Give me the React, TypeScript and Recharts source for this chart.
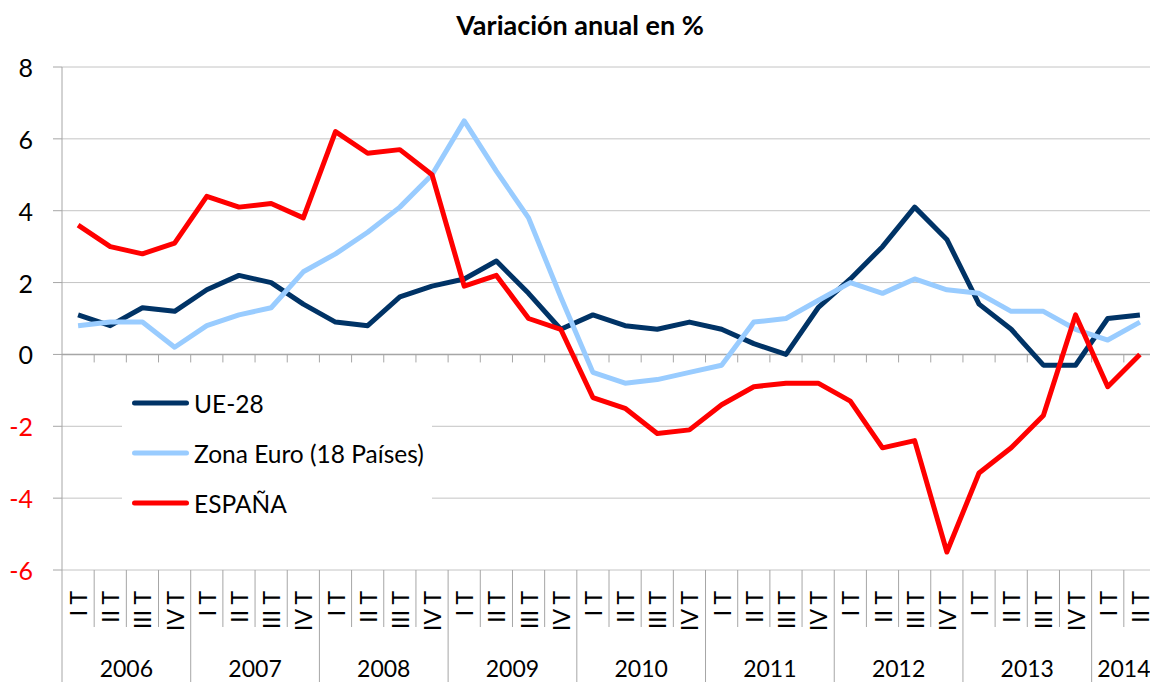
import { LineChart, Line, XAxis, YAxis, CartesianGrid, ReferenceLine, Legend } from "recharts";

const years = ["2006", "2007", "2008", "2009", "2010", "2011", "2012", "2013", "2014"];
const quartersPerYear = [4, 4, 4, 4, 4, 4, 4, 4, 2];
const quarterNames = ["I T", "II T", "III T", "IV T"];

const ue28 = [
	1.1, 0.8, 1.3, 1.2, 1.8, 2.2, 2.0, 1.4, 0.9, 0.8, 1.6, 1.9, 2.1, 2.6, 1.7, 0.7,
	1.1, 0.8, 0.7, 0.9, 0.7, 0.3, 0.0, 1.3, 2.1, 3.0, 4.1, 3.2, 1.4, 0.7, -0.3, -0.3,
	1.0, 1.1,
];
const zonaEuro = [
	0.8, 0.9, 0.9, 0.2, 0.8, 1.1, 1.3, 2.3, 2.8, 3.4, 4.1, 5.0, 6.5, 5.1, 3.8, 1.6,
	-0.5, -0.8, -0.7, -0.5, -0.3, 0.9, 1.0, 1.5, 2.0, 1.7, 2.1, 1.8, 1.7, 1.2, 1.2, 0.7,
	0.4, 0.9,
];
const espana = [
	3.6, 3.0, 2.8, 3.1, 4.4, 4.1, 4.2, 3.8, 6.2, 5.6, 5.7, 5.0, 1.9, 2.2, 1.0, 0.7,
	-1.2, -1.5, -2.2, -2.1, -1.4, -0.9, -0.8, -0.8, -1.3, -2.6, -2.4, -5.5, -3.3, -2.6, -1.7, 1.1,
	-0.9, 0.0,
];
const seriesNames = ["UE-28", "Zona Euro (18 Países)", "ESPAÑA"];
const yTicks = [-6, -4, -2, 0, 2, 4, 6, 8];

const rows = years.flatMap((year, yi) =>
	quarterNames.slice(0, quartersPerYear[yi]).map((q, qi) => ({ year, yi, q, qi })),
).map((r, i) => ({
	...r,
	key: `${r.year}-${r.q}`,
	ue28: ue28[i],
	zonaEuro: zonaEuro[i],
	espana: espana[i],
}));

const FONT = "Lato, 'Open Sans', sans-serif";
const GRID = "#c4c4c4";
const AXIS = "#a6a6a6";

function YTick(props: any) {
	const { x, y, payload } = props;
	return (
		<text
			x={x}
			y={y}
			textAnchor="end"
			dominantBaseline="central"
			fontSize={25}
			fontFamily={FONT}
			fill={payload.value < 0 ? "#ff0000" : "#000000"}
		>
			{payload.value}
		</text>
	);
}

function QuarterTick(props: any) {
	const { x, y, index, width, visibleTicksCount, payload } = props;
	const half = width && visibleTicksCount ? width / visibleTicksCount / 2 : payload?.offset ?? 16;
	const row = rows[index];
	const left = x - half;
	const first = row.qi === 0;
	const last = index === rows.length - 1;
	return (
		<g>
			<line x1={left} x2={left} y1={y} y2={first ? y + 112 : y + 57} stroke={AXIS} />
			{last && <line x1={x + half} x2={x + half} y1={y} y2={y + 112} stroke={AXIS} />}
			<text
				x={x}
				y={y + 21}
				transform={`rotate(-90, ${x}, ${y + 21})`}
				textAnchor="end"
				dominantBaseline="central"
				fontSize={23}
				fontFamily={FONT}
				fill="#000"
			>
				{row.q}
			</text>
			{first && (
				<text
					x={left + quartersPerYear[row.yi] * half}
					y={y + 98}
					textAnchor="middle"
					dominantBaseline="central"
					fontSize={23}
					fontFamily={FONT}
					fill="#000"
				>
					{row.year}
				</text>
			)}
		</g>
	);
}

function ZeroAxis(props: any) {
	const { x1, x2, y1 } = props;
	const n = rows.length;
	return (
		<g>
			<line x1={x1} x2={x2} y1={y1} y2={y1} stroke={AXIS} strokeWidth={1.5} />
			{rows.map((_, k) => {
				const tx = x1 + ((x2 - x1) * (k + 1)) / n;
				return <line key={k} x1={tx} x2={tx} y1={y1} y2={y1 + 8} stroke={AXIS} />;
			})}
		</g>
	);
}

function LegendBox(props: any) {
	const items = [...(props.payload || [])].sort(
		(a: any, b: any) => seriesNames.indexOf(a.value) - seriesNames.indexOf(b.value),
	);
	return (
		<div style={{ fontFamily: FONT, fontSize: 24.5, color: "#000" }}>
			{items.map((entry: any) => (
				<div key={entry.value} style={{ height: 50, display: "flex", alignItems: "center", paddingLeft: 10 }}>
					<svg width={57} height={10} style={{ marginRight: 5 }}>
						<line x1={2.5} x2={54.5} y1={5} y2={5} stroke={entry.color} strokeWidth={5} strokeLinecap="round" />
					</svg>
					<span>{entry.value}</span>
				</div>
			))}
		</div>
	);
}

export default function App() {
	return (
		<div style={{ position: "relative", width: 1150, height: 674 }}>
			<div
				style={{
					position: "absolute",
					left: 0,
					top: 1,
					width: 1144,
					textAlign: "center",
					fontFamily: FONT,
					fontWeight: "bold",
					fontSize: 27,
					lineHeight: "32px",
					zIndex: 2,
				}}
			>
				Variación anual en %
			</div>
			<LineChart width={1150} height={674} data={rows} margin={{ top: 59, right: 2, bottom: 0, left: 0 }}>
				<CartesianGrid vertical={false} stroke={GRID} />
				<YAxis
					width={54}
					domain={[-6, 8]}
					ticks={yTicks}
					interval={0}
					axisLine={{ stroke: AXIS }}
					tickLine={{ stroke: AXIS }}
					tickSize={9}
					tickMargin={20}
					tick={<YTick />}
				/>
				<XAxis
					dataKey="key"
					scale="band"
					height={112}
					interval={0}
					axisLine={false}
					tickLine={false}
					tickSize={0}
					tickMargin={0}
					tick={<QuarterTick />}
				/>
				<ReferenceLine y={0} shape={(p: any) => <ZeroAxis {...p} />} />
				<Legend
					layout="horizontal"
					verticalAlign="middle"
					align="center"
					content={<LegendBox />}
					wrapperStyle={{ left: 114, top: 370, width: 310, height: 150, background: "#fff" }}
				/>
				<Line
					name={seriesNames[0]}
					dataKey="ue28"
					stroke="#003366"
					strokeWidth={5}
					dot={false}
					activeDot={false}
					strokeLinejoin="round"
					isAnimationActive={false}
				/>
				<Line
					name={seriesNames[1]}
					dataKey="zonaEuro"
					stroke="#99ccff"
					strokeWidth={5}
					dot={false}
					activeDot={false}
					strokeLinejoin="round"
					isAnimationActive={false}
				/>
				<Line
					name={seriesNames[2]}
					dataKey="espana"
					stroke="#ff0000"
					strokeWidth={5}
					dot={false}
					activeDot={false}
					strokeLinejoin="round"
					isAnimationActive={false}
				/>
			</LineChart>
		</div>
	);
}
